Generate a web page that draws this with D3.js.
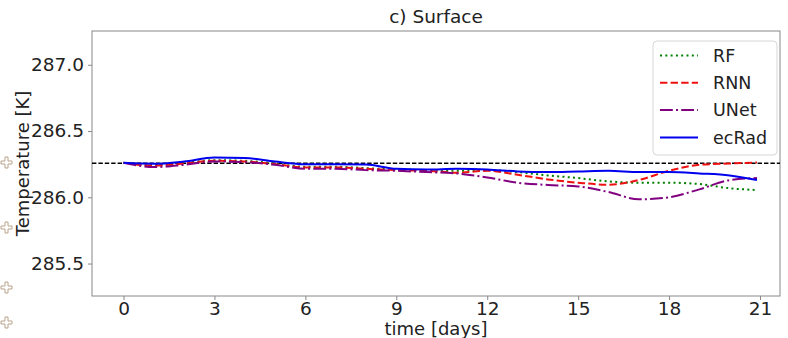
<!DOCTYPE html>
<html>
<head>
<meta charset="utf-8">
<script src="https://cdn.jsdelivr.net/npm/d3@7"></script>
<style>
  body { margin: 0; background: #fff; }
  svg { font-family: "DejaVu Sans", sans-serif; }
</style>
</head>
<body>
<div id="wrapper"></div>
<script>
// time axis (days) and the four model runs
const days = [0, 1, 2, 3, 4, 5, 6, 7, 8, 9, 10, 11, 12, 13, 14, 15, 16, 17, 18, 19, 20, 20.9];

const rf = [286.26, 286.245, 286.26, 286.28, 286.275, 286.255, 286.23, 286.23, 286.22, 286.21, 286.205,
  286.2, 286.205, 286.19, 286.165, 286.145, 286.12, 286.11, 286.11, 286.1, 286.068, 286.055];
const rnn = [286.26, 286.24, 286.255, 286.275, 286.27, 286.25, 286.225, 286.225, 286.215, 286.205, 286.2,
  286.185, 286.2, 286.17, 286.135, 286.11, 286.095, 286.13, 286.2, 286.245, 286.255, 286.262];
const unet = [286.26, 286.228, 286.245, 286.27, 286.265, 286.245, 286.215, 286.215, 286.205, 286.2, 286.19,
  286.18, 286.15, 286.11, 286.093, 286.082, 286.04, 285.985, 286.0, 286.06, 286.13, 286.145];
const ecrad = [286.26, 286.253, 286.27, 286.3, 286.297, 286.27, 286.25, 286.25, 286.247, 286.215, 286.21,
  286.215, 286.21, 286.195, 286.19, 286.195, 286.2, 286.19, 286.19, 286.18, 286.165, 286.13];

const refTemp = 286.257;  // initial value, dashed line
const xTicks = [0, 3, 6, 9, 12, 15, 18, 21];
const yTicks = [285.5, 286.0, 286.5, 287.0];

const series = [
  { name: "RF", values: rf, color: "green", dash: "2,3.3" },
  { name: "RNN", values: rnn, color: "#ee1111", dash: "7.4,3.2" },
  { name: "UNet", values: unet, color: "purple", dash: "12.8,3.2,2,3.2" },
  { name: "ecRad", values: ecrad, color: "#0000ee", dash: null }
];

const width = 788, height = 338;
const margin = { left: 92, right: 8, top: 31, bottom: 42 };

const svg = d3.select("#wrapper").append("svg")
  .attr("width", width)
  .attr("height", height);

const x = d3.scaleLinear().domain([-1.04, 21.66]).range([margin.left, width - margin.right]);
const y = d3.scaleLinear().domain([285.255, 287.255]).range([height - margin.bottom, margin.top]);

// axes
const xAxis = svg.append("g")
  .attr("transform", `translate(0,${height - margin.bottom})`)
  .call(d3.axisBottom(x).tickValues(xTicks).tickSize(4).tickPadding(2).tickFormat(d3.format("d")));
const yAxis = svg.append("g")
  .attr("transform", `translate(${margin.left},0)`)
  .call(d3.axisLeft(y).tickValues(yTicks).tickSize(4).tickPadding(4).tickFormat(d3.format(".1f")));

[xAxis, yAxis].forEach(g => {
  g.attr("font-size", 18.5).attr("font-family", "DejaVu Sans, sans-serif");
  g.select(".domain").remove();
  g.selectAll(".tick line").attr("stroke", "#888");
  g.selectAll(".tick text").attr("fill", "#222");
});

// frame
svg.append("rect")
  .attr("x", margin.left)
  .attr("y", margin.top)
  .attr("width", width - margin.left - margin.right)
  .attr("height", height - margin.top - margin.bottom)
  .attr("fill", "none")
  .attr("stroke", "#888")
  .attr("stroke-width", 1);

svg.append("clipPath").attr("id", "plotclip")
  .append("rect")
  .attr("x", margin.left)
  .attr("y", margin.top)
  .attr("width", width - margin.left - margin.right)
  .attr("height", height - margin.top - margin.bottom);

const plot = svg.append("g").attr("clip-path", "url(#plotclip)");

// reference dashed line
plot.append("line")
  .attr("x1", margin.left)
  .attr("x2", width - margin.right)
  .attr("y1", y(refTemp))
  .attr("y2", y(refTemp))
  .attr("stroke", "#000")
  .attr("stroke-width", 1.3)
  .attr("stroke-dasharray", "4.4,2");

const line = d3.line()
  .x((d, i) => x(days[i]))
  .y(d => y(d))
  .curve(d3.curveMonotoneX);

plot.selectAll("path.series")
  .data(series)
  .join("path")
  .attr("class", "series")
  .attr("fill", "none")
  .attr("stroke", d => d.color)
  .attr("stroke-width", 2)
  .attr("stroke-dasharray", d => d.dash)
  .attr("d", d => line(d.values));

// title and labels
svg.append("text")
  .attr("x", (margin.left + width - margin.right) / 2)
  .attr("y", 23)
  .attr("text-anchor", "middle")
  .style("font-size", "18.5px")
  .attr("fill", "#222")
  .text("c) Surface");

svg.append("text")
  .attr("x", (margin.left + width - margin.right) / 2)
  .attr("y", 335)
  .attr("text-anchor", "middle")
  .style("font-size", "18px")
  .attr("fill", "#222")
  .text("time [days]");

svg.append("text")
  .attr("transform", `translate(29,${(margin.top + height - margin.bottom) / 2}) rotate(-90)`)
  .attr("text-anchor", "middle")
  .style("font-size", "18px")
  .attr("fill", "#222")
  .text("Temperature [K]");

// legend
const legend = svg.append("g").attr("transform", "translate(653,41)");
legend.append("rect")
  .attr("width", 124)
  .attr("height", 114)
  .attr("rx", 4)
  .attr("fill", "#fff")
  .attr("fill-opacity", 0.85)
  .attr("stroke", "#d6d6d6");

const item = legend.selectAll("g.item")
  .data(series)
  .join("g")
  .attr("class", "item")
  .attr("transform", (d, i) => `translate(0,${14.5 + i * 27.3})`);

item.append("line")
  .attr("x1", 7).attr("x2", 45)
  .attr("stroke", d => d.color)
  .attr("stroke-width", 2)
  .attr("stroke-dasharray", d => d.dash);

item.append("text")
  .attr("x", 60)
  .attr("dy", "0.35em")
  .style("font-size", "17.5px")
  .attr("fill", "#222")
  .text(d => d.name);

// small leftover marks at the left edge of the picture
const marks = [165, 230, 290, 325];
svg.selectAll("path.mark")
  .data(marks)
  .join("path")
  .attr("class", "mark")
  .attr("fill", "none")
  .attr("stroke", "#b9a38a")
  .attr("stroke-width", 1)
  .attr("d", d => `M1,${d - 4}h4v-4h3v4h4v3h-4v4h-3v-4h-4z`);
</script>
</body>
</html>
